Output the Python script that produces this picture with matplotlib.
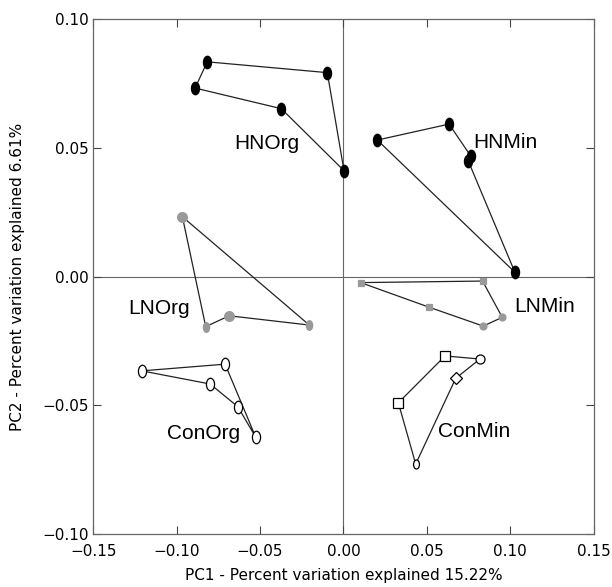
import matplotlib
matplotlib.use("Agg")
import matplotlib.pyplot as plt
import numpy as np
from matplotlib.path import Path
from matplotlib.transforms import Affine2D

# PCA scores per group (polygon order)
hnorg_x = [-0.0817, -0.0097, 0.0003, -0.0373, -0.0890]
hnorg_y = [0.0835, 0.0793, 0.0412, 0.0653, 0.0733]
hnmin_x = [0.0203, 0.0633, 0.0762, 0.0748, 0.1028]
hnmin_y = [0.0531, 0.0593, 0.0470, 0.0450, 0.0017]
lnorg_x = [-0.0966, -0.0205, -0.0685, -0.0826]
lnorg_y = [0.0233, -0.0188, -0.0152, -0.0194]
lnmin_x = [0.0103, 0.0834, 0.0952, 0.0838, 0.0515]
lnmin_y = [-0.0023, -0.0017, -0.0158, -0.0192, -0.0119]
conorg_x = [-0.1210, -0.0710, -0.0526, -0.0634, -0.0800]
conorg_y = [-0.0366, -0.0340, -0.0624, -0.0505, -0.0417]
conmin_x = [0.0609, 0.0818, 0.0673, 0.0433, 0.0329]
conmin_y = [-0.0308, -0.0320, -0.0395, -0.0728, -0.0490]

group_names = ["HNOrg", "HNMin", "LNOrg", "LNMin", "ConOrg", "ConMin"]
label_x = [-0.046, 0.0972, -0.1104, 0.1208, -0.084, 0.0785]
label_y = [0.0518, 0.0520, -0.0123, -0.0117, -0.0608, -0.0602]

x_label = "PC1 - Percent variation explained 15.22%"
y_label = "PC2 - Percent variation explained 6.61%"

# tall ellipse marker
oval = Path.unit_circle().transformed(Affine2D().scale(0.65, 1.0))

fig = plt.figure(figsize=(6.12, 5.87), dpi=100)
ax = fig.add_axes([0.1525, 0.0903, 0.8175, 0.8767])

ax.axhline(0, color="#666666", lw=0.8, zorder=1)
ax.axvline(0, color="#666666", lw=0.8, zorder=1)


def draw_group(xs, ys, markers, face, edge, size):
    xc = list(xs) + [xs[0]]
    yc = list(ys) + [ys[0]]
    ax.plot(xc, yc, color="#222222", lw=0.9, zorder=2)
    for x, y, m in zip(xs, ys, markers):
        ax.plot(x, y, marker=m, ms=size, mfc=face, mec=edge, mew=0.9,
                ls="none", zorder=3)


draw_group(hnorg_x, hnorg_y, [oval] * 5, "black", "black", 9)
draw_group(hnmin_x, hnmin_y, [oval] * 5, "black", "black", 9)
draw_group(lnorg_x, lnorg_y, ["o", oval, "o", oval], "#999999", "#999999", 7)
draw_group(lnmin_x, lnmin_y, ["s", "s", "o", "o", "s"], "#999999", "#999999", 5)
draw_group(conorg_x, conorg_y, [oval] * 5, "white", "black", 9)
draw_group(conmin_x, conmin_y, ["s", "o", "D", oval, "s"], "white", "black", 6.5)

for name, lx, ly in zip(group_names, label_x, label_y):
    ax.text(lx, ly, name, fontsize=15, family="Liberation Sans",
            ha="center", va="center", zorder=4)

ax.set_xlim(-0.15, 0.15)
ax.set_ylim(-0.10, 0.10)
ax.set_xticks(np.arange(-0.15, 0.151, 0.05))
ax.set_yticks(np.arange(-0.10, 0.101, 0.05))
ax.tick_params(direction="in", top=True, right=True, length=6,
               labelsize=11, color="#444444")
ax.tick_params(axis="x", pad=7)
for s in ax.spines.values():
    s.set_color("#666666")
    s.set_linewidth(0.9)
ax.set_xlabel(x_label, fontsize=11, labelpad=7)
ax.set_ylabel(y_label, fontsize=11, labelpad=12)

fig.savefig("out.png", dpi=100)
